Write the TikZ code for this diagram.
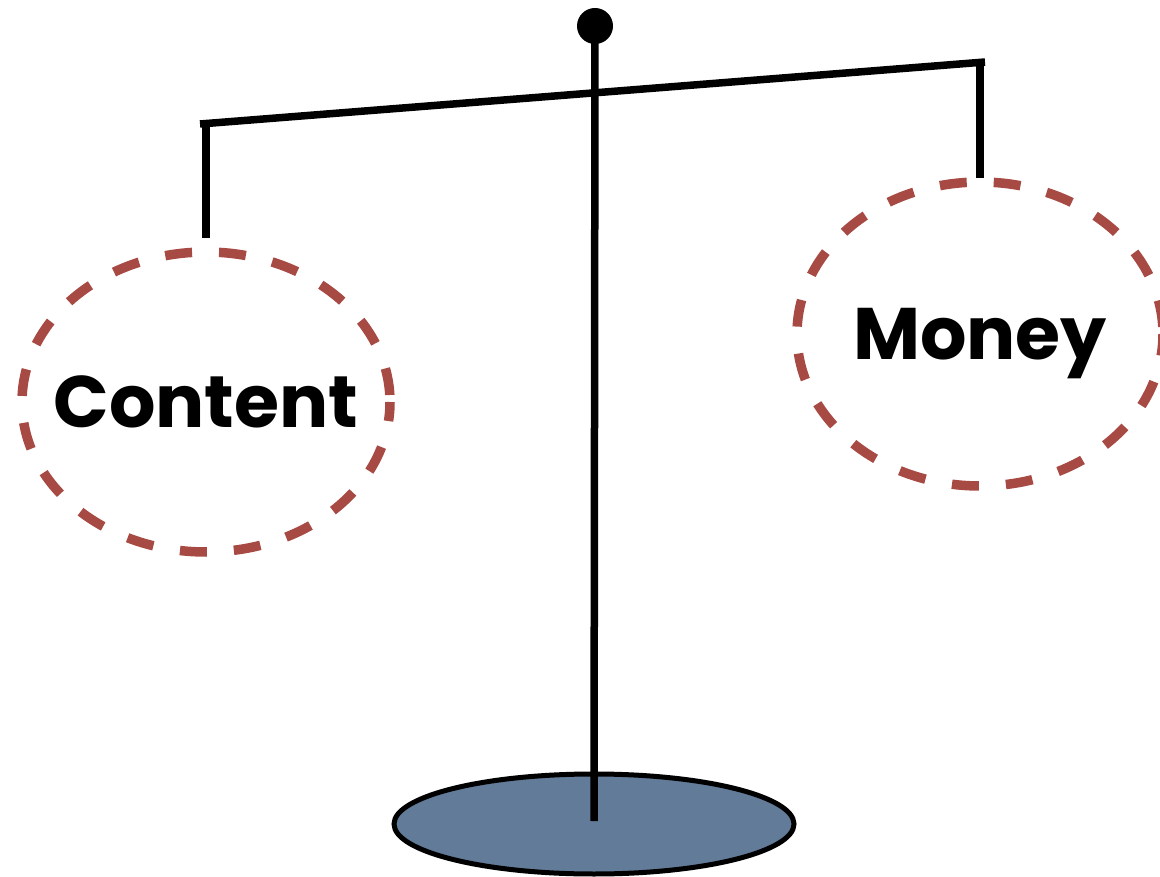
\documentclass[tikz,border=0pt]{standalone}
\usepackage{fontspec}
\setmainfont{Poppins}
\usetikzlibrary{shapes.geometric}
\definecolor{panred}{HTML}{A84A44}
\definecolor{basefill}{HTML}{627B98}
\tikzset{
  pan/.style={ellipse, draw=panred, line width=9.5pt, dash pattern=on 27pt off 27pt, dash phase=47pt,
    inner sep=0pt},
  pantext/.style={font=\fontsize{73}{73}\selectfont\bfseries, text height=52pt, text depth=0pt, inner sep=0pt},
  rod/.style={draw=black, line width=7.5pt},
}
\begin{document}
\begin{tikzpicture}[x=1pt,y=-1pt]
\useasboundingbox (0,0) rectangle (1160,877);
% base
\node[ellipse, draw=black, line width=5pt, fill=basefill, minimum width=400pt, minimum height=100pt, inner sep=0pt] (base) at (594,824) {};
% ball
\node[circle, fill=black, minimum size=36pt, inner sep=0pt] (ball) at (595,26) {};
% beam end points
\coordinate (bl) at (200,124);
\coordinate (br) at (985,62);
\coordinate (hl) at (206,123.5);
\coordinate (hr) at (980,62.5);
% pans
\node[pan, minimum width=368pt, minimum height=300pt, label={[pantext]center:Content}] (content) at (206,402) {};
\node[pan, minimum width=366pt, minimum height=304pt, label={[pantext]center:Money}] (money) at (980,334) {};
% pole
\draw[rod] (ball.center) -- (base.center |- 0,821);
% beam
\draw[rod] (bl) -- (br);
% hangers
\draw[rod] (hl) -- (206,238);
\draw[rod] (hr) -- (980,178);
\end{tikzpicture}
\end{document}
